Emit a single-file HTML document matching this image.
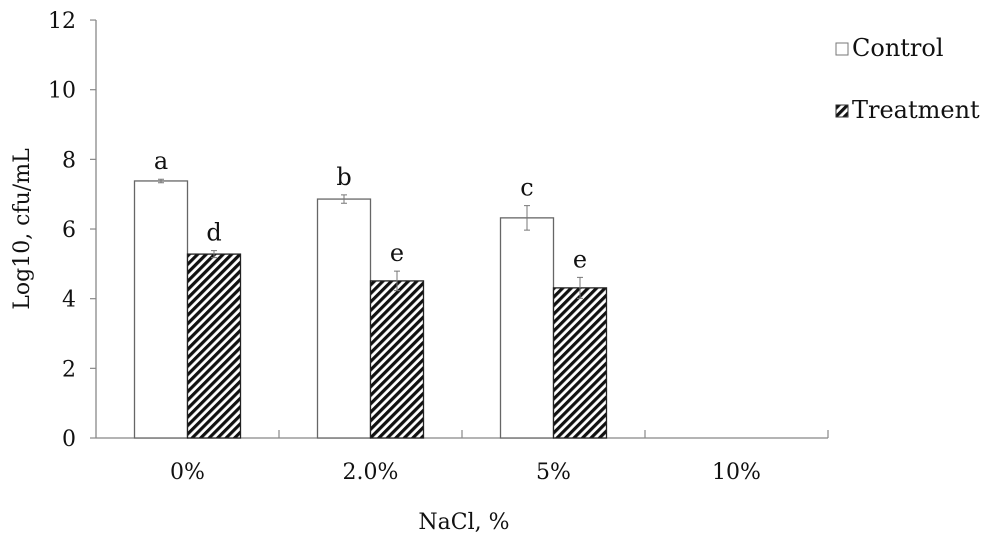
<!DOCTYPE html>
<html><head><meta charset="utf-8"><style>
body{margin:0;background:#fff}
svg text{font-family:"DejaVu Serif","Liberation Serif",serif;fill:#111}
</style></head><body>
<svg width="1000" height="539" xmlns="http://www.w3.org/2000/svg">
<defs>
<pattern id="hatch" patternUnits="userSpaceOnUse" width="6" height="6" patternTransform="rotate(-45)">
<rect width="6" height="6" fill="#fff"/><rect width="6" height="3.2" fill="#111"/>
</pattern>
</defs>
<g id="plot"></g>
</svg>
<script>
const categories=["0%","2.0%","5%","10%"];
const controlVals=[7.38,6.86,6.32,0];
const treatVals=[5.28,4.51,4.31,0];
const controlErr=[0.05,0.12,0.35,0];
const treatErr=[0.1,0.28,0.3,0];
const controlLetters=["a","b","c",""];
const treatLetters=["d","e","e",""];
const yTicks=[0,2,4,6,8,10,12];

const NS="http://www.w3.org/2000/svg";
const g=document.getElementById('plot');
const x0=96,catW=183,yBase=438,pxPerUnit=34.83;
const y=v=>yBase-v*pxPerUnit;
const xc=i=>x0+catW*(i+0.5);
function mk(t,a){const e=document.createElementNS(NS,t);for(const k in a)e.setAttribute(k,a[k]);g.appendChild(e);return e;}

let e=mk('line',{x1:x0,y1:y(12),x2:x0,y2:yBase,stroke:'#888','stroke-width':1.3});


e=mk('line',{x1:x0,y1:yBase,x2:x0+catW*categories.length,y2:yBase,stroke:'#888','stroke-width':1.3});



yTicks.forEach(t=>{
  let l=mk('line',{x1:x0-6,y1:y(t),x2:x0,y2:y(t),stroke:'#888','stroke-width':1.2});
  
  
  let tx=mk('text',{x:x0-20,y:y(t)+8,'text-anchor':'end','font-size':22});
  tx.textContent=t;
  
  
});
for(let i=1;i<=categories.length;i++){
  let l=mk('line',{x1:x0+catW*i,y1:yBase-8,x2:x0+catW*i,y2:yBase,stroke:'#888','stroke-width':1.2});
  
  
}
categories.forEach((c,i)=>{
  let tx=mk('text',{x:xc(i),y:479,'text-anchor':'middle','font-size':22});
  tx.textContent=c;
  
  
  const series=[[controlVals,controlErr,controlLetters,'#fff',-53],[treatVals,treatErr,treatLetters,'url(#hatch)',0]];
  series.forEach(([vals,errs,lets,fill,off],s)=>{
    const v=vals[i];if(v<=0)return;
    const bx=xc(i)+off;
    let r=mk('rect',{x:bx,y:y(v),width:53,height:yBase-y(v),fill:fill,stroke:s?'#222':'#666','stroke-width':1.3});
    
    
    const cx=bx+26.5,eh=y(v+errs[i]),el=y(v-errs[i]);
    let eb=mk('path',{d:`M${cx},${eh}V${el}M${cx-3},${eh}H${cx+3}M${cx-3},${el}H${cx+3}`,stroke:'#777','stroke-width':1,fill:'none'});
    
    
    let lt=mk('text',{x:cx,y:eh-10,'text-anchor':'middle','font-size':24});
    lt.textContent=lets[i];
    
    
  });
});
let yt=mk('text',{x:0,y:0,'text-anchor':'middle','font-size':22,transform:`translate(29,${y(6)}) rotate(-90)`});
yt.textContent='Log10, cfu/mL';


let xt=mk('text',{x:464,y:529,'text-anchor':'middle','font-size':22});
xt.textContent='NaCl, %';


[['Control','#fff','#777',56],['Treatment','url(#hatch)','#333',118]].forEach(([n,f,s,ly])=>{
  let r=mk('rect',{x:836,y:ly-13,width:12,height:12,fill:f,stroke:s,'stroke-width':1});
  
  
  let t=mk('text',{x:852,y:ly,'font-size':24});
  t.textContent=n;
  
  
});
</script>
</body></html>
